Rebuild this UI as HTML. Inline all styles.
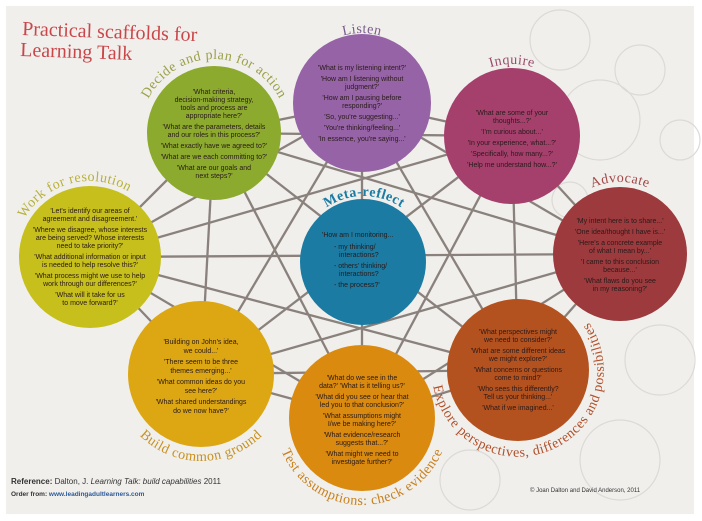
<!DOCTYPE html>
<html><head><meta charset="utf-8">
<style>
html,body{margin:0;padding:0;background:#fff;}
svg{display:block;}
.q{font-family:"Liberation Sans",sans-serif;font-size:7px;fill:#2a1a1a;text-anchor:middle;}
.lab{font-family:"Liberation Serif",serif;font-size:14px;letter-spacing:0.5px;}
</style></head><body>
<svg width="702" height="521" viewBox="0 0 702 521" xmlns="http://www.w3.org/2000/svg">
<rect width="702" height="521" fill="#ffffff"/>
<rect x="6" y="6" width="688" height="508" fill="#f0efec"/>
<g fill="none" stroke="#dcdad6" stroke-width="1.2">
<circle cx="560" cy="40" r="30"/><circle cx="640" cy="70" r="25"/><circle cx="600" cy="120" r="40"/>
<circle cx="660" cy="360" r="35"/><circle cx="620" cy="460" r="40"/><circle cx="470" cy="480" r="30"/>
<circle cx="680" cy="140" r="20"/><circle cx="570" cy="200" r="18"/>
</g>
<g stroke="#8a817c" stroke-width="2.3">
<line x1="362" y1="103" x2="620" y2="254"/><line x1="362" y1="103" x2="518" y2="370"/><line x1="362" y1="103" x2="362" y2="418"/>
<line x1="362" y1="103" x2="201" y2="374"/><line x1="362" y1="103" x2="90" y2="257"/>
<line x1="512" y1="136" x2="518" y2="370"/><line x1="512" y1="136" x2="362" y2="418"/><line x1="512" y1="136" x2="201" y2="374"/>
<line x1="512" y1="136" x2="90" y2="257"/><line x1="512" y1="136" x2="214" y2="133"/>
<line x1="620" y1="254" x2="362" y2="418"/><line x1="620" y1="254" x2="201" y2="374"/><line x1="620" y1="254" x2="90" y2="257"/>
<line x1="620" y1="254" x2="214" y2="133"/>
<line x1="518" y1="370" x2="201" y2="374"/><line x1="518" y1="370" x2="90" y2="257"/><line x1="518" y1="370" x2="214" y2="133"/>
<line x1="362" y1="418" x2="90" y2="257"/><line x1="362" y1="418" x2="214" y2="133"/>
<line x1="201" y1="374" x2="214" y2="133"/>
<line x1="362" y1="103" x2="512" y2="136"/><line x1="512" y1="136" x2="620" y2="254"/><line x1="620" y1="254" x2="518" y2="370"/>
<line x1="518" y1="370" x2="362" y2="418"/><line x1="362" y1="418" x2="201" y2="374"/><line x1="201" y1="374" x2="90" y2="257"/>
<line x1="90" y1="257" x2="214" y2="133"/><line x1="214" y1="133" x2="362" y2="103"/>
</g>
<circle cx="362" cy="103" r="69" fill="#9563a6"/>
<circle cx="512" cy="136" r="68" fill="#a5406d"/>
<circle cx="620" cy="254" r="67" fill="#9c3a3d"/>
<circle cx="518" cy="370" r="71" fill="#b4521f"/>
<circle cx="362" cy="418" r="73" fill="#d98a0f"/>
<circle cx="201" cy="374" r="73" fill="#dca713"/>
<circle cx="90" cy="257" r="71" fill="#c6bf1c"/>
<circle cx="214" cy="133" r="67" fill="#8cab2e"/>
<circle cx="363" cy="262" r="63" fill="#1b7ba2"/>
<text x="22" y="35" font-family="Liberation Serif,serif" font-size="20" fill="#c9464a" transform="rotate(2 22 35)">Practical scaffolds for</text>
<text x="20" y="56" font-family="Liberation Serif,serif" font-size="20" fill="#c9464a" transform="rotate(2 20 56)">Learning Talk</text>
<defs>
<path id="pL" d="M292,103 A70,70 0 0 1 432,103"/>
<path id="pI" d="M440,136 A72,72 0 0 1 584,136"/>
<path id="pA" d="M548,254 A72,72 0 0 1 692,254"/>
<path id="pD" d="M140,133 A74,74 0 0 1 288,133"/>
<path id="pW" d="M14,257 A76,76 0 0 1 166,257"/>
<path id="pM" d="M298,262 A66,66 0 0 1 430,262"/>
<path id="pB" d="M114,374 A87,87 0 0 0 288,374"/>
<path id="pT" d="M275,418 A87,87 0 0 0 449,418"/>
<path id="pE" d="M433,385 A86,86 0 1 0 588,321"/>
</defs>
<text class="lab" fill="#7a5a8a"><textPath href="#pL" startOffset="50%" text-anchor="middle">Listen</textPath></text>
<text class="lab" fill="#9a4a6a"><textPath href="#pI" startOffset="50%" text-anchor="middle">Inquire</textPath></text>
<text class="lab" fill="#a04a48"><textPath href="#pA" startOffset="50%" text-anchor="middle">Advocate</textPath></text>
<text class="lab" fill="#9aa048"><textPath href="#pD" startOffset="50%" text-anchor="middle">Decide and plan for action</textPath></text>
<text class="lab" fill="#b8b038"><textPath href="#pW" startOffset="42%" text-anchor="middle">Work for resolution</textPath></text>
<text class="lab" fill="#1b7ba2" font-weight="bold" font-size="13"><textPath href="#pM" startOffset="50%" text-anchor="middle">Meta-reflect</textPath></text>
<text class="lab" fill="#c8901c"><textPath href="#pB" startOffset="50%" text-anchor="middle">Build common ground</textPath></text>
<text class="lab" fill="#c8801c"><textPath href="#pT" startOffset="50%" text-anchor="middle">Test assumptions: check evidence</textPath></text>
<text class="lab" fill="#b0502a" font-size="10.5" letter-spacing="0"><textPath href="#pE" startOffset="50%" text-anchor="middle">Explore perspectives, differences and possibilities</textPath></text>
<g class="q">
<text x="362" y="70">'What is my listening intent?'</text>
<text x="362" y="81">'How am I listening without</text><text x="362" y="89">judgment?'</text>
<text x="362" y="100">'How am I pausing before</text><text x="362" y="108">responding?'</text>
<text x="362" y="119">'So, you're suggesting...'</text>
<text x="362" y="130">'You're thinking/feeling...'</text>
<text x="362" y="141">'In essence, you're saying...'</text>
</g>
<g class="q">
<text x="512" y="115">'What are some of your</text><text x="512" y="123">thoughts...?'</text>
<text x="512" y="134">'I'm curious about...'</text>
<text x="512" y="145">'In your experience, what...?'</text>
<text x="512" y="156">'Specifically, how many...?'</text>
<text x="512" y="167">'Help me understand how...?'</text>
</g>
<g class="q">
<text x="620" y="223">'My intent here is to share...'</text>
<text x="620" y="234">'One idea/thought I have is...'</text>
<text x="620" y="245">'Here's a concrete example</text><text x="620" y="253">of what I mean by...'</text>
<text x="620" y="264">'I came to this conclusion</text><text x="620" y="272">because...'</text>
<text x="620" y="283">'What flaws do you see</text><text x="620" y="291">in my reasoning?'</text>
</g>
<g class="q">
<text x="518" y="334">'What perspectives might</text><text x="518" y="342">we need to consider?'</text>
<text x="518" y="353">'What are some different ideas</text><text x="518" y="361">we might explore?'</text>
<text x="518" y="372">'What concerns or questions</text><text x="518" y="380">come to mind?'</text>
<text x="518" y="391">'Who sees this differently?</text><text x="518" y="399">Tell us your thinking...'</text>
<text x="518" y="410">'What if we imagined...'</text>
</g>
<g class="q">
<text x="362" y="380">'What do we see in the</text><text x="362" y="388">data?' 'What is it telling us?'</text>
<text x="362" y="399">'What did you see or hear that</text><text x="362" y="407">led you to that conclusion?'</text>
<text x="362" y="418">'What assumptions might</text><text x="362" y="426">I/we be making here?'</text>
<text x="362" y="437">'What evidence/research</text><text x="362" y="445">suggests that...?'</text>
<text x="362" y="456">'What might we need to</text><text x="362" y="464">investigate further?'</text>
</g>
<g class="q" font-size="7.5">
<text x="201" y="344">'Building on John's idea,</text><text x="201" y="353">we could...'</text>
<text x="201" y="364">'There seem to be three</text><text x="201" y="373">themes emerging...'</text>
<text x="201" y="384">'What common ideas do you</text><text x="201" y="393">see here?'</text>
<text x="201" y="404">'What shared understandings</text><text x="201" y="413">do we now have?'</text>
</g>
<g class="q">
<text x="90" y="213">'Let's identify our areas of</text><text x="90" y="221">agreement and disagreement.'</text>
<text x="90" y="232">'Where we disagree, whose interests</text><text x="90" y="240">are being served? Whose interests</text><text x="90" y="248">need to take priority?'</text>
<text x="90" y="259">'What additional information or input</text><text x="90" y="267">is needed to help resolve this?'</text>
<text x="90" y="278">'What process might we use to help</text><text x="90" y="286">work through our differences?'</text>
<text x="90" y="297">'What will it take for us</text><text x="90" y="305">to move forward?'</text>
</g>
<g class="q">
<text x="214" y="94">'What criteria,</text><text x="214" y="102">decision-making strategy,</text><text x="214" y="110">tools and process are</text><text x="214" y="118">appropriate here?'</text>
<text x="214" y="129">'What are the parameters, details</text><text x="214" y="137">and our roles in this process?'</text>
<text x="214" y="148">'What exactly have we agreed to?'</text>
<text x="214" y="159">'What are we each committing to?'</text>
<text x="214" y="170">'What are our goals and</text><text x="214" y="178">next steps?'</text>
</g>
<g class="q" fill="#0e2a38" style="text-anchor:start">
<text x="322" y="237">'How am I monitoring...</text>
<text x="334" y="249">- my thinking/</text><text x="339" y="257">interactions?</text>
<text x="334" y="268">- others' thinking/</text><text x="339" y="276">interactions?</text>
<text x="334" y="287">- the process?'</text>
</g>
<text x="11" y="484" font-family="Liberation Sans,sans-serif" font-size="8" fill="#333"><tspan font-weight="bold">Reference:</tspan> Dalton, J. <tspan font-style="italic">Learning Talk: build capabilities</tspan> 2011</text>
<text x="11" y="496" font-family="Liberation Sans,sans-serif" font-size="6.5" fill="#333" font-weight="bold">Order from: <tspan fill="#2a5a9a">www.leadingadultlearners.com</tspan></text>
<text x="530" y="492" font-family="Liberation Sans,sans-serif" font-size="6" fill="#333">© Joan Dalton and David Anderson, 2011</text>
</svg>
</body></html>
